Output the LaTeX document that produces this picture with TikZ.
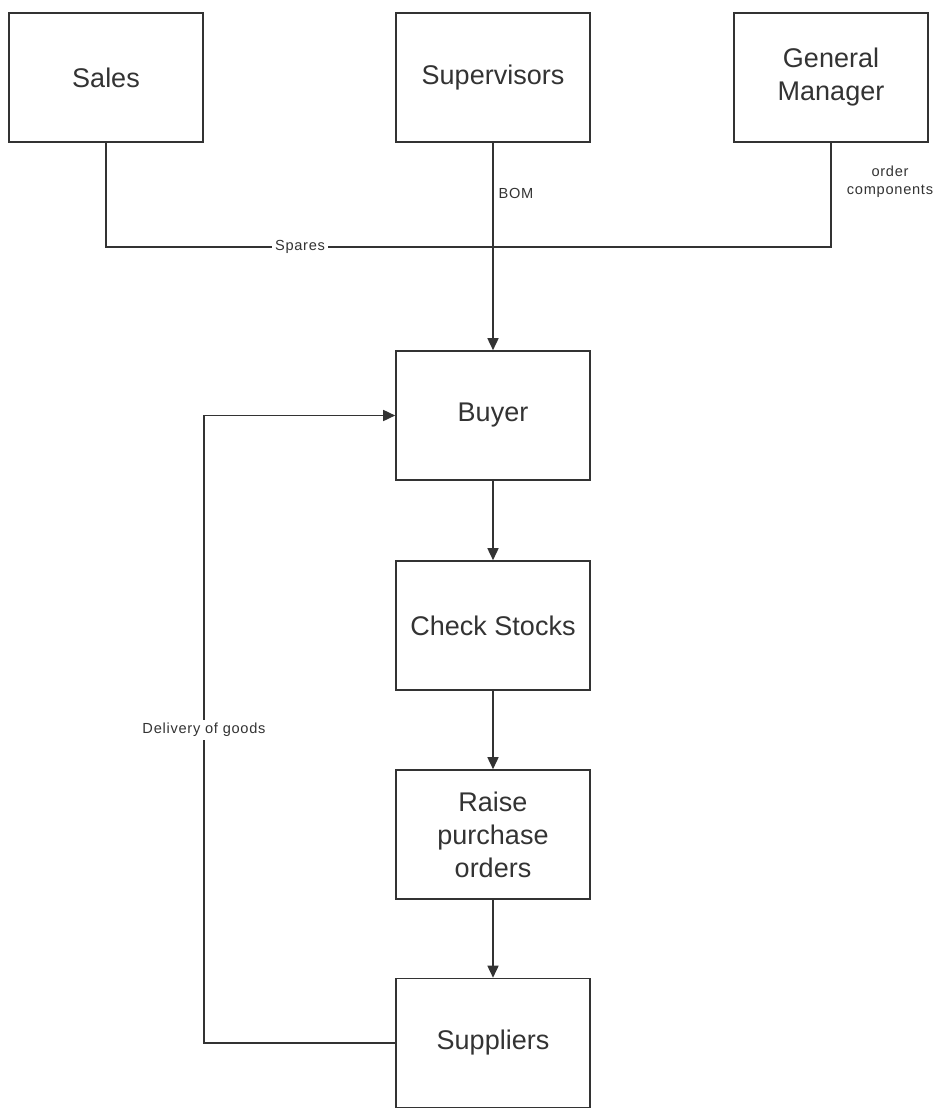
\documentclass[tikz,border=0pt]{standalone}
\usepackage{fontspec}
\setmainfont{Liberation Sans}
\usetikzlibrary{arrows.meta}
\definecolor{ink}{HTML}{333333}
\begin{document}
\begin{tikzpicture}[x=0.5pt,y=-0.5pt,
  box/.style={draw=ink,line width=0.8pt,minimum width=97pt,minimum height=64.5pt,
    align=center,text=ink,font=\fontsize{13.5}{16.5}\selectfont,inner sep=0pt},
  link/.style={draw=ink,line width=0.8pt},
  flow/.style={link,-{Triangle[length=6pt,width=5.5pt]}},
  lbl/.style={text=ink,font=\fontsize{7.3}{9}\selectfont\addfontfeature{LetterSpace=5},
    inner sep=1.5pt,align=center}]
\useasboundingbox (0,0) rectangle (943,1113);

% top row
\node[box] (sales) at (106,77.5) {Sales};
\node[box] (sup)   at (493,77.5) {Supervisors};
\node[box] (gm)    at (831,77.5) {General\\Manager};

% main column
\node[box] (buyer) at (493,415.5) {Buyer};
\node[box] (check) at (493,625.5) {Check Stocks};
\node[box] (raise) at (493,834.5) {Raise\\purchase\\orders};
\node[box] (supp)  at (493,1043) {Suppliers};

% collecting line under the top row
\coordinate (j) at (493,247);
\draw[link] (sales.south) -- (sales.south |- j) -- (gm.south |- j) -- (gm.south);
\node[lbl,fill=white] (spares) at (300,247) {Spares};
\node[lbl] (order) at (890,182) {order\\components};

\draw[flow] (sup.south) -- (buyer.north);
\node[lbl] (bom) at (516,193) {BOM};

\draw[flow] (buyer) -- (check);
\draw[flow] (check) -- (raise);
\draw[flow] (raise) -- (supp);

% delivery loop
\coordinate (loop) at (204,730);
\draw[flow] (supp.west) -- (supp.west -| loop) |- (buyer.west);
\node[lbl,fill=white] (deliv) at (loop) {Delivery of goods};
\end{tikzpicture}
\end{document}
